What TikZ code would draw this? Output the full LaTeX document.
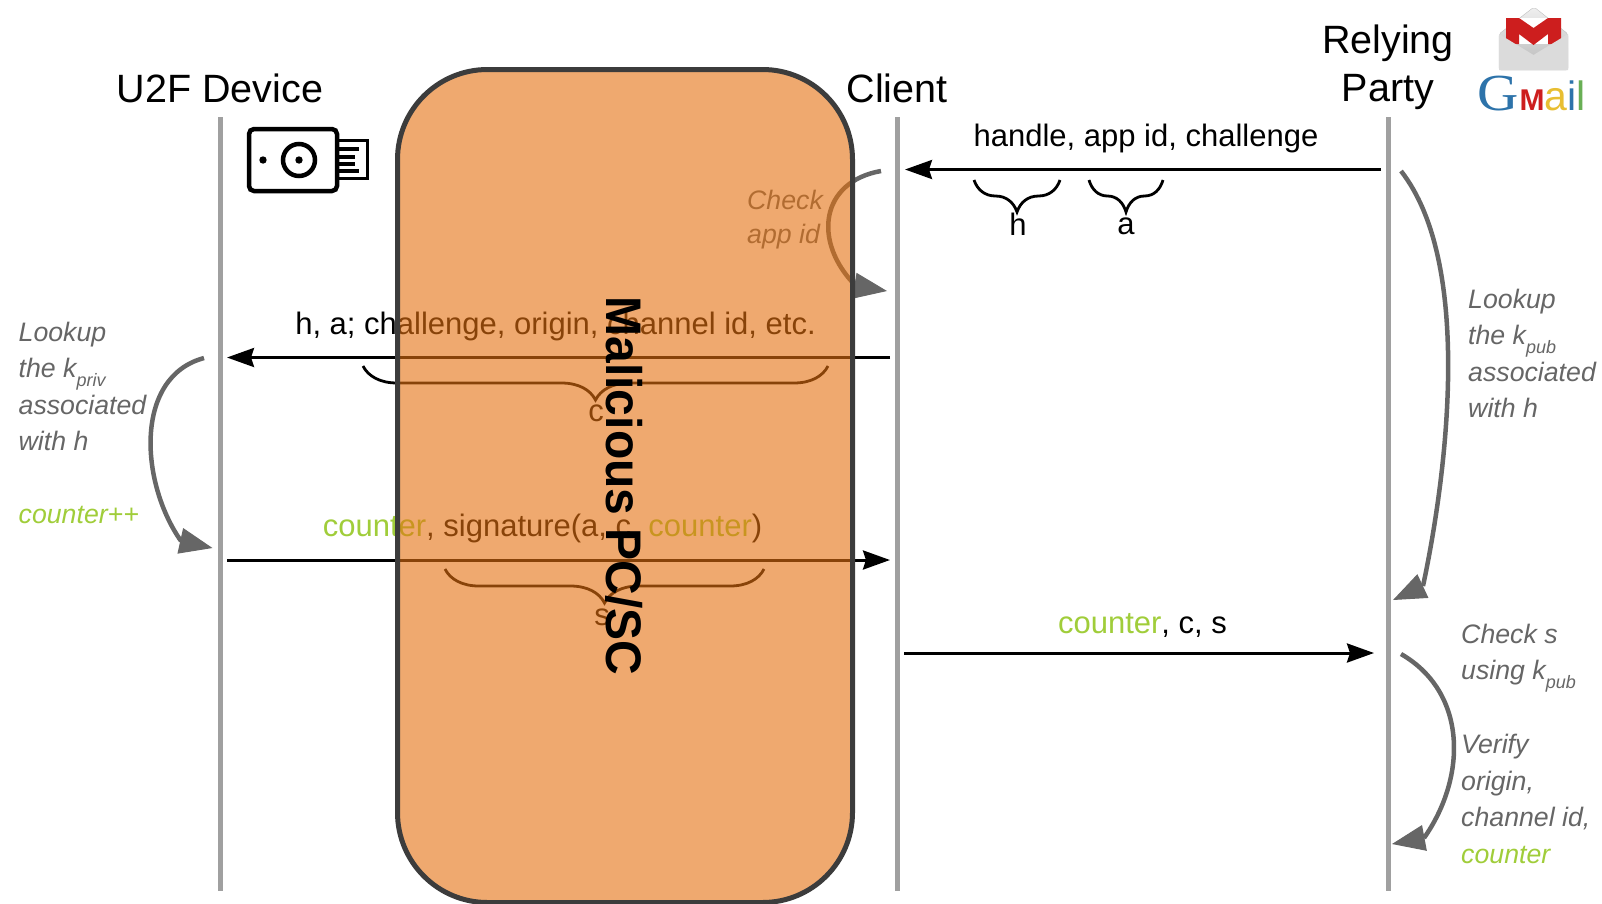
\documentclass[tikz,border=0pt]{standalone}
\usepackage{fontspec}
\setmainfont{Liberation Sans}
\newfontfamily\logofont{Liberation Serif}
\usepackage{graphicx}
\usetikzlibrary{positioning}
\usetikzlibrary{arrows.meta}
\usetikzlibrary{decorations.pathreplacing}
\definecolor{lifegrey}{RGB}{160,160,160}
\definecolor{turngrey}{RGB}{102,102,102}
\definecolor{countergreen}{RGB}{160,205,58}
\definecolor{malorange}{RGB}{228,112,15}
\definecolor{maledge}{RGB}{60,60,60}
\definecolor{gmailred}{RGB}{205,30,30}
\definecolor{gmailblue}{RGB}{45,115,170}
\definecolor{gmailyellow}{RGB}{232,190,50}
\definecolor{gmailgreen}{RGB}{105,175,85}
\newcommand{\titlesize}{\fontsize{39.5}{44}\selectfont}
\newcommand{\msgsize}{\fontsize{31}{36}\selectfont}
\newcommand{\notesize}{\fontsize{26.7}{36.5}\selectfont}
\newcommand{\subtxt}[1]{\smash{\raisebox{-9pt}{\fontsize{18}{20}\selectfont #1}}}
\newcommand{\ctr}{\textcolor{countergreen}{counter}}
\tikzset{
title/.style={
  inner sep=0pt,
  align=center,
  font=\titlesize
  },
msg/.style={
  inner sep=0pt,
  font=\msgsize
  },
note/.style={
  inner sep=0pt,
  anchor=west,
  font=\notesize\itshape,
  text=turngrey
  },
life/.style={
  line width=5pt,
  draw=lifegrey
  },
call/.style={
  -{Stealth[length=27pt,width=19pt,inset=3pt]},
  line width=3pt,
  draw=black
  },
turnline/.style={
  line width=4.5pt,
  draw=turngrey
  },
turn/.style={
  -{Triangle[length=33pt,width=26pt]},
  line width=1pt,
  draw=turngrey
  },
curly/.style={
  decorate,
  decoration={brace,mirror,amplitude=#1},
  line width=2.8pt
  },
malbox/.style={
  rectangle,
  rounded corners=90pt,
  inner sep=0pt,
  draw=maledge,
  line width=5pt,
  fill=malorange,
  fill opacity=.6,
  minimum width=455pt,
  minimum height=833pt
  }
}
\begin{document}
\begin{tikzpicture}[x=1pt,y=-1pt]
        \useasboundingbox (0,0) rectangle (1602,903);
        % lifelines
        \node[title] at (220,88) (dev) {U2F Device};
        \node[title] at (897,88) (cli) {Client};
        \node[title] at (1388,43) (rel) {Relying};
        \node[title] at (1388,92) (par) {Party};
        \coordinate (dev1) at (220,117);
        \coordinate (dev2) at (220,891);
        \coordinate (cli1) at (897,117);
        \coordinate (cli2) at (897,891);
        \coordinate (rp1) at (1388,117);
        \coordinate (rp2) at (1388,891);
        \draw[life] (dev1) -- (dev2);
        \draw[life] (cli1) -- (cli2);
        \draw[life] (rp1) -- (rp2);
        % messages
        \coordinate (m1a) at (1381,169.5);
        \coordinate (m1b) at (905,169.5);
        \coordinate (m2a) at (890,357.5);
        \coordinate (m2b) at (227,357.5);
        \coordinate (m3a) at (227,560);
        \coordinate (m3b) at (890,560);
        \coordinate (m4a) at (904,653);
        \coordinate (m4b) at (1374,653);
        \path
        (m1a) edge [call] node {} (m1b)
        (m2a) edge [call] node {} (m2b)
        (m3a) edge [call] node {} (m3b)
        (m4a) edge [call] node {} (m4b)
        ;
        \node[msg] at (1146,138) (l1) {handle, app id, challenge};
        \node[msg] at (555.5,326) (l2) {h, a; challenge, origin, channel id, etc.};
        \node[msg] at (542.5,528) (l3) {\ctr, signature(a, c, \ctr)};
        \node[msg] at (1142.5,625) (l4) {\ctr, c, s};
        % braces
        \coordinate (bh1) at (974,180);
        \coordinate (bh2) at (1060,180);
        \coordinate (ba1) at (1089,180);
        \coordinate (ba2) at (1163,180);
        \coordinate (bc1) at (363,366);
        \coordinate (bc2) at (828,366);
        \coordinate (bs1) at (445,569);
        \coordinate (bs2) at (764,569);
        \draw[curly=32pt] (bh1) -- (bh2);
        \draw[curly=32pt] (ba1) -- (ba2);
        \draw[curly=34pt] (bc1) -- (bc2);
        \draw[curly=34pt] (bs1) -- (bs2);
        \node[msg] at (1018,224) (h) {h};
        \node[msg] at (1126,226) (a) {a};
        \node[msg] at (596,413) (c) {c};
        \node[msg] at (602,617) (s) {s};
        % local steps
        \coordinate (t1a) at (881,171);
        \coordinate (t1c) at (856,286);
        \coordinate (t1b) at (887,291);
        \coordinate (t2a) at (204,358);
        \coordinate (t2c) at (181,541);
        \coordinate (t2b) at (212.5,548);
        \coordinate (t3a) at (1401,171);
        \coordinate (t3c) at (1423,586);
        \coordinate (t3b) at (1393,600);
        \coordinate (t4a) at (1401,654);
        \coordinate (t4c) at (1424,838);
        \coordinate (t4b) at (1392,844);
        \path
        (t1a) edge [turnline,out=190,in=135,looseness=1.35] node {} (t1c)
        (t2a) edge [turnline,out=195,in=125,looseness=1] node {} (t2c)
        (t3a) edge [turnline,out=-52,in=78,looseness=.72] node {} (t3c)
        (t4a) edge [turnline,out=-30,in=55,looseness=1.05] node {} (t4c)
        (t1c) edge [turn] node {} (t1b)
        (t2c) edge [turn] node {} (t2b)
        (t3c) edge [turn] node {} (t3b)
        (t4c) edge [turn] node {} (t4b)
        ;
        \node[note,align=left] at (747,219.5) (n1) {Check\\[-3pt]app id};
        \node[note,align=left] at (18.5,386.5) (n2) {Lookup\\the k\subtxt{priv}\\associated\\with h};
        \node[note,text=countergreen] at (18.5,515) (n3) {counter++};
        \node[note,align=left] at (1468,353.5) (n4) {Lookup\\the k\subtxt{pub}\\associated\\with h};
        \node[note,align=left] at (1461,654.5) (n5) {Check s\\using k\subtxt{pub}};
        \node[note,align=left] at (1461,799) (n6) {Verify\\origin,\\channel id,\\\textcolor{countergreen}{counter}};
        % usb key
        \draw[line width=4.5pt,fill=white,rounded corners=5pt] (249,129) rectangle (337,191);
        \draw[line width=3pt] (339,140.5) -- (367,140.5) -- (367,178.5) -- (339,178.5);
        \foreach \ypos/\xend in {149/359,157/355,164/355,171/359}
            \draw[line width=3.5pt] (339,\ypos) -- (\xend,\ypos);
        \fill (263,160) circle (3.7);
        \draw[line width=4.5pt] (299,160) circle (16);
        \fill (299,160) circle (3.7);
        % gmail logo
        \draw[draw=black!25,top color=black!6,bottom color=black!28,rounded corners=2pt] (1499,34) -- (1534,7) -- (1568,34) -- (1568,70) -- (1499,70) -- cycle;
        \fill[white] (1506,18) rectangle (1561,44);
        \fill[gmailred] (1506,18) -- (1519,18) -- (1533.5,28) -- (1548,18) -- (1561,18) -- (1561,44) -- (1548,44) -- (1548,34) -- (1533.5,45) -- (1519,34) -- (1519,44) -- (1506,44) -- cycle;
        \fill[black!14] (1499,34) -- (1533.5,55) -- (1568,34) -- (1568,70) -- (1499,70) -- cycle;
        \node[inner sep=0pt,anchor=base west] at (1477,110) (gmail) {\textcolor{gmailblue}{\logofont\fontsize{52}{54}\selectfont\scalebox{1.1}[1]{G}}\hspace{1pt}\textcolor{gmailred}{\bfseries\fontsize{30}{34}\selectfont M}\fontsize{41}{44}\selectfont\textcolor{gmailyellow}{a}\textcolor{gmailblue}{i}\textcolor{gmailgreen}{l}};
        % malicious pc
        \node[malbox] at (625,486) (mal) {};
        \node[inner sep=0pt,rotate=-90,font=\bfseries\fontsize{50}{52}\selectfont] at (624,486) (mallab) {\scalebox{.96}[1]{Malicious PC/SC}};
    \end{tikzpicture}
\end{document}
